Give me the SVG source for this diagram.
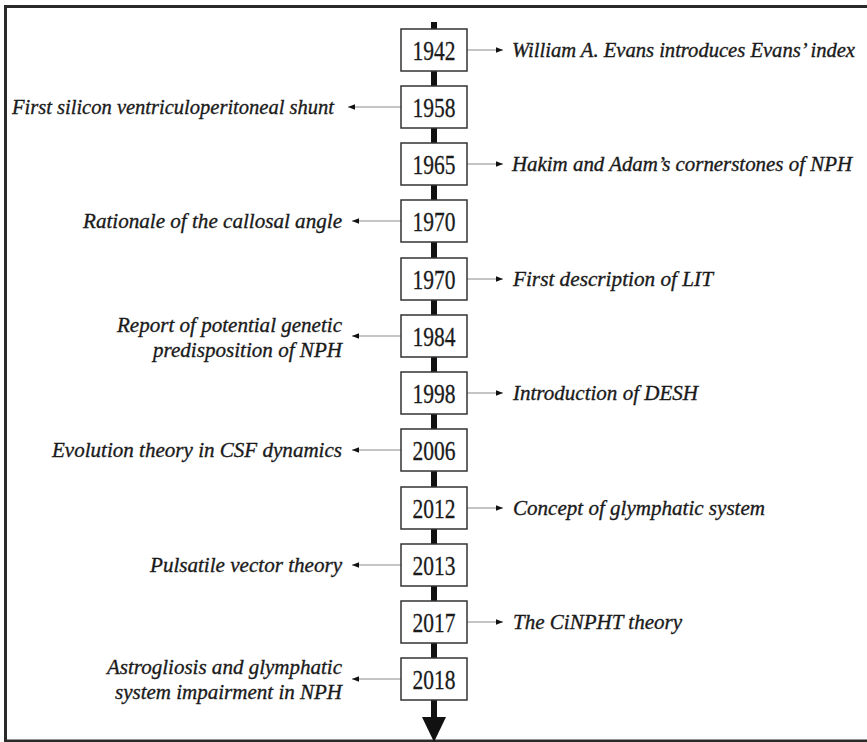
<svg xmlns="http://www.w3.org/2000/svg" width="867" height="742" viewBox="0 0 867 742">
<style>
.frame{fill:none;stroke:#2a2a2a;stroke-width:3}
.box{fill:#fff;stroke:#333;stroke-width:1.5}
.yr{font-family:"Liberation Serif","Times New Roman",serif;font-size:28px;fill:#1a1a1a;stroke:#1a1a1a;stroke-width:0.3;text-anchor:middle}
.lbl{font-family:"Liberation Serif","Times New Roman",serif;font-style:italic;font-size:22px;fill:#1a1a1a;stroke:#1a1a1a;stroke-width:0.35}
.sm{font-size:20px}
.lft{text-anchor:end}
.con{stroke:#8a8a8a;stroke-width:1;fill:none}
</style>
<defs>
<marker id="ah" viewBox="0 0 10 10" refX="10" refY="5" markerWidth="7" markerHeight="7" markerUnits="userSpaceOnUse" orient="auto">
<path d="M0,1 L10,5 L0,9 Z" fill="#111"/>
</marker>
</defs>
<rect width="867" height="742" fill="#fff"/>
<path class="frame" d="M867,6.5 H5.5 V741 H867"/>
<g id="timeline">
<rect x="431" y="22" width="6" height="697" fill="#111"/>
<path d="M422,717 L446,717 L434,742 Z" fill="#111"/>
</g>
<g id="connectors">
<line class="con" x1="467" y1="50" x2="503" y2="50" marker-end="url(#ah)"/>
<line class="con" x1="401" y1="107" x2="348" y2="107" marker-end="url(#ah)"/>
<line class="con" x1="467" y1="164" x2="503" y2="164" marker-end="url(#ah)"/>
<line class="con" x1="401" y1="221" x2="352" y2="221" marker-end="url(#ah)"/>
<line class="con" x1="467" y1="279" x2="503" y2="279" marker-end="url(#ah)"/>
<line class="con" x1="401" y1="336" x2="352" y2="336" marker-end="url(#ah)"/>
<line class="con" x1="467" y1="393" x2="503" y2="393" marker-end="url(#ah)"/>
<line class="con" x1="401" y1="450" x2="352" y2="450" marker-end="url(#ah)"/>
<line class="con" x1="467" y1="508" x2="503" y2="508" marker-end="url(#ah)"/>
<line class="con" x1="401" y1="565" x2="352" y2="565" marker-end="url(#ah)"/>
<line class="con" x1="467" y1="622" x2="503" y2="622" marker-end="url(#ah)"/>
<line class="con" x1="401" y1="679" x2="352" y2="679" marker-end="url(#ah)"/>
</g>
<g id="n1942"><rect class="box" x="401" y="29" width="66" height="42"/><text class="yr" x="434" y="60" textLength="43" lengthAdjust="spacingAndGlyphs">1942</text>
<text class="lbl sm" x="512" y="57" textLength="343" lengthAdjust="spacingAndGlyphs">William A. Evans introduces Evans’ index</text></g>
<g id="n1958"><rect class="box" x="401" y="86" width="66" height="42"/><text class="yr" x="434" y="117" textLength="43" lengthAdjust="spacingAndGlyphs">1958</text>
<text class="lbl lft" x="334" y="114" textLength="322" lengthAdjust="spacingAndGlyphs">First silicon ventriculoperitoneal shunt</text></g>
<g id="n1965"><rect class="box" x="401" y="143" width="66" height="42"/><text class="yr" x="434" y="174" textLength="43" lengthAdjust="spacingAndGlyphs">1965</text>
<text class="lbl sm" x="512" y="171" textLength="340" lengthAdjust="spacingAndGlyphs">Hakim and Adam’s cornerstones of NPH</text></g>
<g id="n1970a"><rect class="box" x="401" y="200" width="66" height="42"/><text class="yr" x="434" y="231" textLength="43" lengthAdjust="spacingAndGlyphs">1970</text>
<text class="lbl lft" x="342" y="228" textLength="259" lengthAdjust="spacingAndGlyphs">Rationale of the callosal angle</text></g>
<g id="n1970b"><rect class="box" x="401" y="258" width="66" height="42"/><text class="yr" x="434" y="289" textLength="43" lengthAdjust="spacingAndGlyphs">1970</text>
<text class="lbl" x="513" y="286" textLength="200" lengthAdjust="spacingAndGlyphs">First description of LIT</text></g>
<g id="n1984"><rect class="box" x="401" y="315" width="66" height="42"/><text class="yr" x="434" y="346" textLength="43" lengthAdjust="spacingAndGlyphs">1984</text>
<text class="lbl lft" x="342" y="332" textLength="225" lengthAdjust="spacingAndGlyphs">Report of potential genetic</text>
<text class="lbl lft" x="342" y="357" textLength="189" lengthAdjust="spacingAndGlyphs">predisposition of NPH</text></g>
<g id="n1998"><rect class="box" x="401" y="372" width="66" height="42"/><text class="yr" x="434" y="403" textLength="43" lengthAdjust="spacingAndGlyphs">1998</text>
<text class="lbl" x="513" y="400" textLength="185" lengthAdjust="spacingAndGlyphs">Introduction of DESH</text></g>
<g id="n2006"><rect class="box" x="401" y="429" width="66" height="42"/><text class="yr" x="434" y="460" textLength="43" lengthAdjust="spacingAndGlyphs">2006</text>
<text class="lbl lft" x="342" y="457" textLength="290" lengthAdjust="spacingAndGlyphs">Evolution theory in CSF dynamics</text></g>
<g id="n2012"><rect class="box" x="401" y="487" width="66" height="42"/><text class="yr" x="434" y="518" textLength="43" lengthAdjust="spacingAndGlyphs">2012</text>
<text class="lbl" x="513" y="515" textLength="252" lengthAdjust="spacingAndGlyphs">Concept of glymphatic system</text></g>
<g id="n2013"><rect class="box" x="401" y="544" width="66" height="42"/><text class="yr" x="434" y="575" textLength="43" lengthAdjust="spacingAndGlyphs">2013</text>
<text class="lbl lft" x="342" y="572" textLength="192" lengthAdjust="spacingAndGlyphs">Pulsatile vector theory</text></g>
<g id="n2017"><rect class="box" x="401" y="601" width="66" height="42"/><text class="yr" x="434" y="632" textLength="43" lengthAdjust="spacingAndGlyphs">2017</text>
<text class="lbl" x="513" y="629" textLength="169" lengthAdjust="spacingAndGlyphs">The CiNPHT theory</text></g>
<g id="n2018"><rect class="box" x="401" y="658" width="66" height="42"/><text class="yr" x="434" y="689" textLength="43" lengthAdjust="spacingAndGlyphs">2018</text>
<text class="lbl lft" x="342" y="674" textLength="235" lengthAdjust="spacingAndGlyphs">Astrogliosis and glymphatic</text>
<text class="lbl lft" x="342" y="699" textLength="227" lengthAdjust="spacingAndGlyphs">system impairment in NPH</text></g>
</svg>
